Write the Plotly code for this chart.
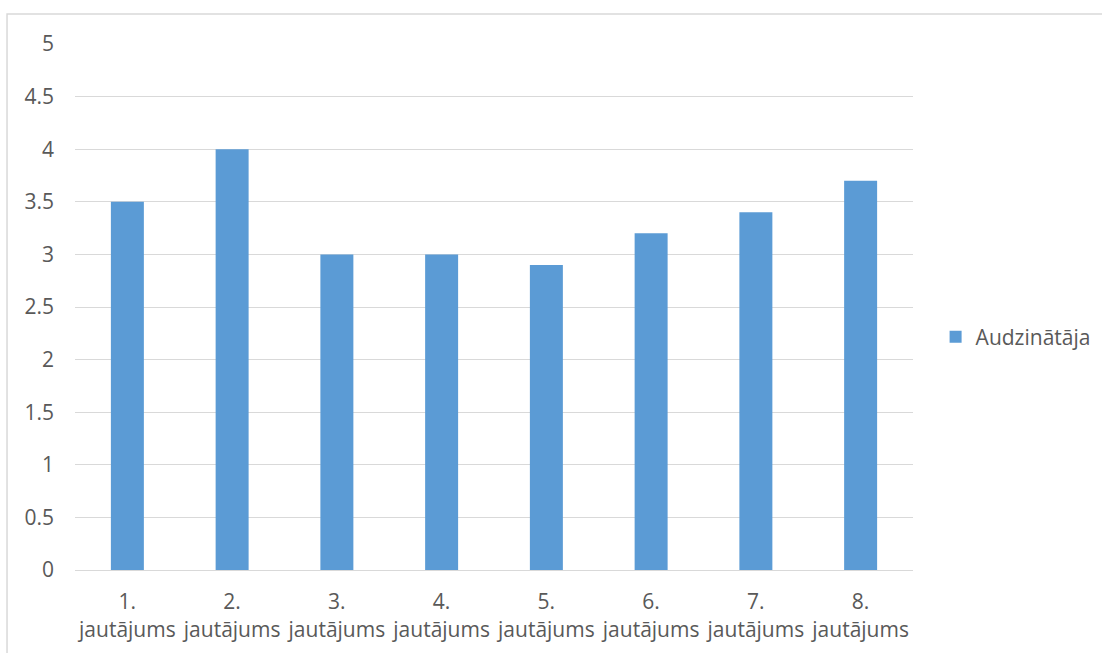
import plotly.graph_objects as go

categories = ["1.<br>jautājums", "2.<br>jautājums", "3.<br>jautājums", "4.<br>jautājums",
              "5.<br>jautājums", "6.<br>jautājums", "7.<br>jautājums", "8.<br>jautājums"]
values = [3.5, 4.0, 3.0, 3.0, 2.9, 3.2, 3.4, 3.7]
series_name = "Audzinātāja"
y_ticks = [0, 0.5, 1, 1.5, 2, 2.5, 3, 3.5, 4, 4.5, 5]

font_family = "Open Sans, Liberation Sans, sans-serif"
text_color = "#595959"
fs = 21

fig = go.Figure()
fig.add_trace(go.Bar(x=categories, y=values, name=series_name,
                     marker=dict(color="#5B9BD5", line=dict(width=0))))

fig.update_layout(
    width=1102, height=653,
    margin=dict(l=75, r=189, t=44, b=83, autoexpand=False),
    paper_bgcolor="white", plot_bgcolor="white",
    bargap=0.685,
    showlegend=True,
    font=dict(family=font_family, size=fs, color=text_color),
    legend=dict(xref="container", x=0.849, y=0.443, xanchor="left", yanchor="middle",
                font=dict(size=fs, color=text_color), itemwidth=30),
    xaxis=dict(showgrid=False, showline=True, linecolor="#D9D9D9", linewidth=1,
               ticks="", ticklabelstandoff=13, tickfont=dict(size=fs, color=text_color)),
    yaxis=dict(range=[0, 5], tickvals=y_ticks, showgrid=True, gridcolor="#D9D9D9",
               gridwidth=1, zeroline=False, ticks="", ticklabelstandoff=20,
               tickfont=dict(size=fs, color=text_color)),
    shapes=[dict(type="rect", xref="paper", yref="paper",
                 x0=-0.0811, x1=1.4, y0=-0.4, y1=1.057,
                 line=dict(color="#D9D9D9", width=1.5), fillcolor="rgba(0,0,0,0)",
                 layer="below")],
)

fig.write_html("out.html")
